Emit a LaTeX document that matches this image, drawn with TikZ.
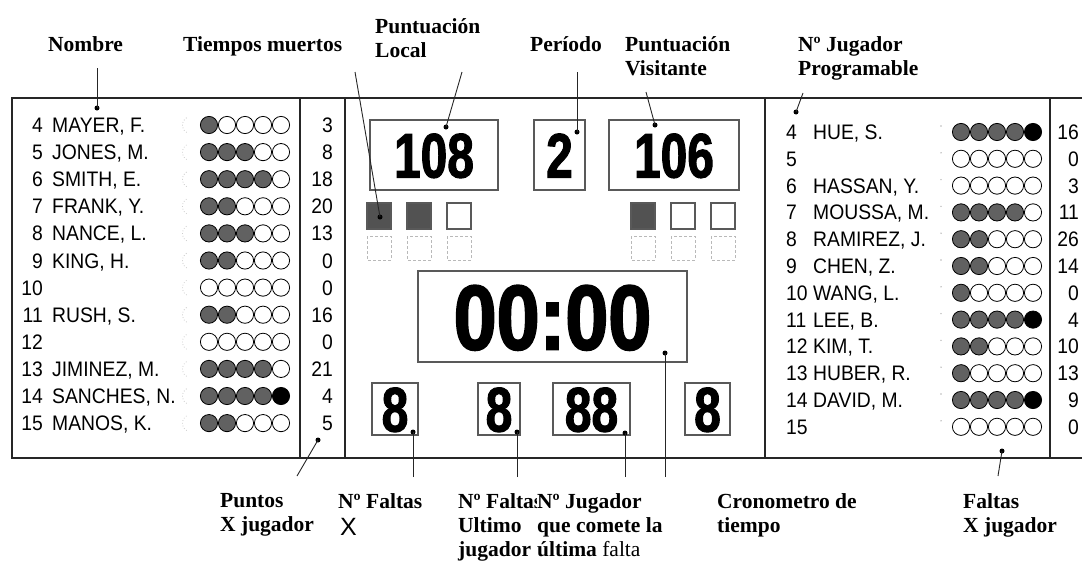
\documentclass[tikz,border=0pt]{standalone}
\usepackage{fontspec}
\setmainfont{Liberation Serif}
\newfontfamily\namefont{Liberation Sans}[FakeStretch=0.92]
\newfontfamily\plainsans{Liberation Sans}
\newfontfamily\digitfont{Liberation Sans}[FakeStretch=0.76,BoldFeatures={FakeBold=1.6}]
\newfontfamily\clockfont{Liberation Sans}[FakeStretch=0.84,BoldFeatures={FakeBold=2}]
\begin{document}
\begin{tikzpicture}[x=1pt,y=-1pt,
 lbl/.style={anchor=north west,inner sep=0pt,align=left,font=\bfseries\fontsize{21.5}{24}\selectfont},
 pname/.style={anchor=west,inner sep=0pt,text height=15pt,text depth=0pt,font=\namefont\fontsize{21}{23}\selectfont},
 pnum/.style={pname,anchor=east},
 digits/.style={inner sep=0pt,text height=45pt,text depth=0pt,font=\digitfont\bfseries\fontsize{63}{63}\selectfont},
 panel/.style={draw=black!85,line width=1.7pt},
 shown/.style={draw=black!65,line width=1.1pt},
 leader/.style={draw=black!85,line width=0.9pt},
 tip/.style={fill=black,circle,inner sep=0pt,minimum size=5pt},
 foul/.style={draw=black,line width=0.8pt}]
\useasboundingbox (0,0) rectangle (1082,560);
\clip (0,0) rectangle (1082,560);
\draw[panel,line width=2.4pt] (1090,98) -- (12,98) -- (12,458) -- (1090,458);
\draw[panel] (300,98) -- (300,458);
\draw[panel] (345,98) -- (345,458);
\draw[panel] (765,98) -- (765,458);
\draw[panel] (1050,98) -- (1050,458);
\foreach \n/\nm/\f/\p in {4/{MAYER, F.}/1/3,5/{JONES, M.}/3/8,6/{SMITH, E.}/4/18,7/{FRANK, Y.}/2/20,8/{NANCE, L.}/3/13,9/{KING, H.}/2/0,10/{}/0/0,11/{RUSH, S.}/2/16,12/{}/0/0,13/{JIMINEZ, M.}/4/21,14/{SANCHES, N.}/5/4,15/{MANOS, K.}/2/5}{
 \pgfmathsetmacro\yy{125+(\n-4)*27.1}
 \node[pnum] (lnum\n) at (43,\yy) {\n};
 \node[pname] (lname\n) at (52,\yy) {\nm};
 \node[pnum] (lpts\n) at (333,\yy) {\p};
 \draw[gray!40,dotted,line width=0.8pt] (191,\yy) ++(120:8.6) arc (120:240:8.6);
 \foreach \c in {1,...,5}{
  \ifnum\c>\f\relax\def\fc{white}\else\ifnum\c=5\relax\def\fc{black}\else\def\fc{black!62}\fi\fi
  \draw[foul,fill=\fc] ({191+18*\c},\yy) circle (8.6);
 }
}
\foreach \n/\nm/\f/\p in {4/{HUE, S.}/5/16,5/{}/0/0,6/{HASSAN, Y.}/0/3,7/{MOUSSA, M.}/4/11,8/{RAMIREZ, J.}/2/26,9/{CHEN, Z.}/2/14,10/{WANG, L.}/1/0,11/{LEE, B.}/5/4,12/{KIM, T.}/2/10,13/{HUBER, R.}/1/13,14/{DAVID, M.}/5/9,15/{}/0/0}{
 \pgfmathsetmacro\yy{132+(\n-4)*26.8}
 \node[pname] (rnum\n) at (786,\yy) {\n};
 \node[pname] (rname\n) at (813,\yy) {\nm};
 \node[pnum] (rpts\n) at (1079,\yy) {\p};
 \fill[gray!55] (941,\yy-6) circle (0.8);
 \foreach \c in {1,...,5}{
  \ifnum\c>\f\relax\def\fc{white}\else\ifnum\c=5\relax\def\fc{black}\else\def\fc{black!62}\fi\fi
  \draw[foul,fill=\fc] ({943+18*\c},\yy) circle (8.6);
 }
}
\node[digits,shown,minimum width=128pt,minimum height=70pt] (home) at (434,155) {108};
\node[digits,shown,minimum width=51pt,minimum height=70pt] (period) at (559.5,155) {2};
\node[digits,shown,minimum width=130pt,minimum height=70pt] (visitor) at (674,155) {106};
\foreach \x/\k in {367/1,407/2,447/3}{
 \ifnum\k<3\relax\def\fc{black!68}\else\def\fc{white}\fi
 \draw[shown,fill=\fc] (\x,203) rectangle ++(24,26);
 \draw[gray!55,densely dashed,line width=0.6pt] (\x,236) rectangle ++(24,24);
}
\foreach \x/\k in {631/1,671/2,711/3}{
 \ifnum\k<2\relax\def\fc{black!68}\else\def\fc{white}\fi
 \draw[shown,fill=\fc] (\x,203) rectangle ++(24,26);
 \draw[gray!55,densely dashed,line width=0.6pt] (\x,236) rectangle ++(24,24);
}
\node[digits,shown,text height=66pt,font=\clockfont\bfseries\fontsize{92}{92}\selectfont,minimum width=269pt,minimum height=91pt] (clock) at (552.5,316.5) {00:00};
\node[digits,shown,minimum width=46pt,minimum height=52pt] (fouls) at (395,409) {8};
\node[digits,shown,minimum width=42pt,minimum height=52pt] (lastfouls) at (499,409) {8};
\node[digits,shown,minimum width=77pt,minimum height=52pt] (lastplayer) at (591.5,409) {88};
\node[digits,shown,minimum width=45pt,minimum height=52pt] (vfouls) at (707.5,409) {8};
\node[lbl] (nombre) at (48,36) {Nombre};
\node[lbl] (tiempos) at (183,36) {Tiempos muertos};
\node[lbl] (plocal) at (375,18) {Puntuación\\Local};
\node[lbl] (periodo) at (530,36) {Período};
\node[lbl] (pvisit) at (625,36) {Puntuación\\Visitante};
\node[lbl] (njprog) at (798,36) {Nº Jugador\\Programable};
\node[lbl] (puntos) at (220,493) {Puntos\\X jugador};
\node[lbl] (nfaltas) at (338,493) {Nº Faltas};
\node[inner sep=0pt,font=\plainsans\fontsize{25}{25}\selectfont] (equis) at (348.5,527) {X};
\node[lbl] (nfultimo) at (458,493) {Nº Faltas\\Ultimo\\jugador};
\node[lbl,fill=white] (njultima) at (537,493) {Nº Jugador\\que comete la\\última {\mdseries falta}};
\node[lbl] (crono) at (717,493) {Cronometro de\\tiempo};
\node[lbl] (fxj) at (963,493) {Faltas\\X jugador};
\coordinate (sNombre) at (97,68);
\coordinate (sTiempos) at (355,72);
\coordinate (sLocal) at (462,72);
\coordinate (sPeriodo) at (577,72);
\coordinate (sVisit) at (646,92);
\coordinate (sProg) at (803,93);
\coordinate (sPuntos) at (297,476);
\coordinate (sFaltas) at (413,477);
\coordinate (sUltimo) at (517,477);
\coordinate (sUltima) at (625,477);
\coordinate (sCrono) at (665,477);
\coordinate (sFxj) at (998,476);
\node[tip] (dNombre) at (97,108) {};
\node[tip] (dTiempos) at (380,217) {};
\node[tip] (dLocal) at (446,127) {};
\node[tip] (dPeriodo) at (577,132) {};
\node[tip] (dVisit) at (655,125) {};
\node[tip] (dProg) at (796,112) {};
\node[tip] (dPuntos) at (318,440) {};
\node[tip] (dFaltas) at (413,432) {};
\node[tip] (dUltimo) at (517,432) {};
\node[tip] (dUltima) at (625,433) {};
\node[tip] (dCrono) at (665,353) {};
\node[tip] (dFxj) at (1002,451) {};
\draw[leader] (sNombre) -- (dNombre.center);
\draw[leader] (sTiempos) -- (dTiempos.center);
\draw[leader] (sLocal) -- (dLocal.center);
\draw[leader] (sPeriodo) -- (dPeriodo.center);
\draw[leader] (sVisit) -- (dVisit.center);
\draw[leader] (sProg) -- (dProg.center);
\draw[leader] (sPuntos) -- (dPuntos.center);
\draw[leader] (sFaltas) -- (dFaltas.center);
\draw[leader] (sUltimo) -- (dUltimo.center);
\draw[leader] (sUltima) -- (dUltima.center);
\draw[leader] (sCrono) -- (dCrono.center);
\draw[leader] (sFxj) -- (dFxj.center);
\end{tikzpicture}
\end{document}
